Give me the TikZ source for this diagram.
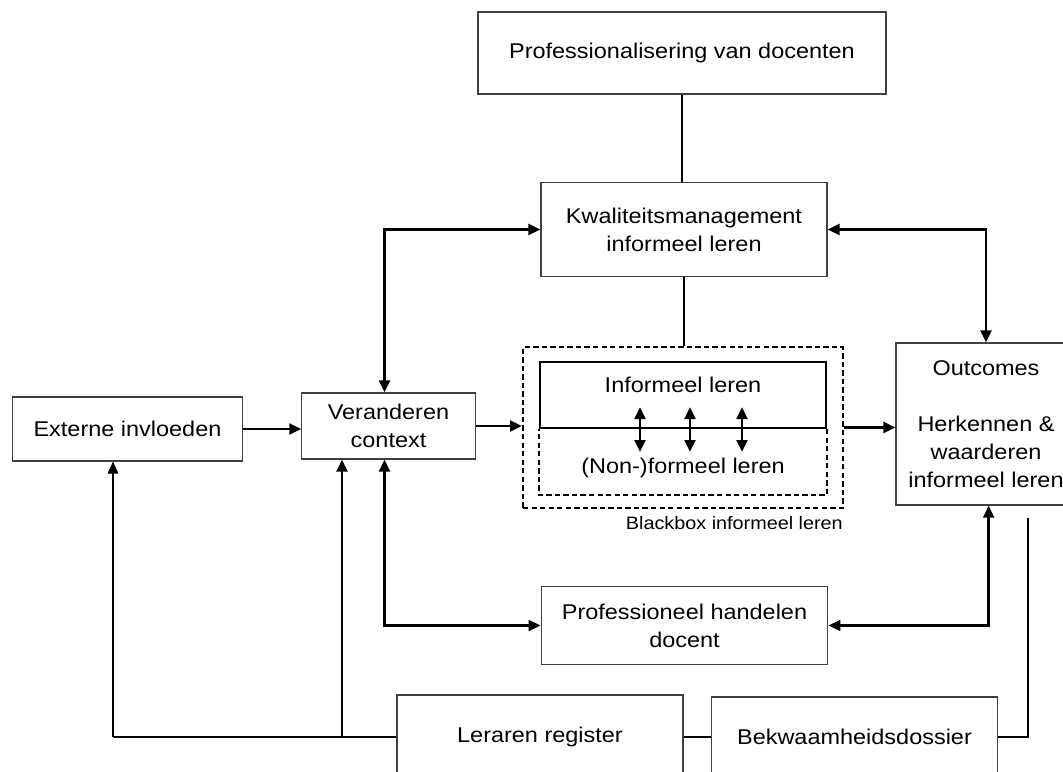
\documentclass[tikz,border=0pt]{standalone}
\usepackage{fontspec}
\setmainfont{Liberation Sans}[FakeStretch=1.1]
\usetikzlibrary{arrows.meta,calc,positioning}

\begin{document}
\begin{tikzpicture}[x=0.75pt,y=-0.75pt,inner sep=0.4mm,
  >={Triangle[length=9pt,width=8pt]},
  blok/.style={draw=black!75,line width=0.8pt,fill=white,align=center,
    font=\fontsize{16}{21}\selectfont},
  lijn/.style={draw=black,line width=0.8pt},
  pijl/.style={draw=black,line width=2.1pt},
  streep/.style={draw=black,line width=1.5pt,dash pattern=on 4pt off 2.4pt}]
\useasboundingbox (0,0) rectangle (1063,771);
\clip (0,0) rectangle (1063,771);

\node [blok,minimum width=306pt,minimum height=61.5pt] (prof) at (682,53) {Professionalisering van docenten};
\node [blok,minimum width=214.5pt,minimum height=71pt] (kwal) at (684,229.5) {Kwaliteitsmanagement\\informeel leren};
\node [blok,minimum width=173pt,minimum height=48pt] (ext) at (127.5,429) {Externe invloeden};
\node [blok,minimum width=130pt,minimum height=49.5pt] (ver) at (388.5,426) {Veranderen\\context};
\node [blok,minimum width=135pt,minimum height=121.5pt] (out) at (986,424) {Outcomes\\[21pt]Herkennen \&\\waarderen\\informeel leren};
\node [blok,minimum width=215pt,minimum height=58pt] (hand) at (684.5,625.5) {Professioneel handelen\\docent};
\node [blok,minimum width=214.5pt,minimum height=63pt] (ler) at (540,737) {Leraren register};
\node [blok,minimum width=215pt,minimum height=60pt] (bek) at (854.5,737) {Bekwaamheidsdossier};

% blackbox met informeel en (non-)formeel leren
\node [streep,minimum width=240pt,minimum height=120.5pt] (bb) at (683,427.5) {};
\node [minimum width=214.5pt,minimum height=49.5pt,draw=black,line width=1.5pt] (inf) at (683,395) {};
\draw [streep] (inf.south east) -- ++(0,66) -| (inf.south west);
\node [font=\fontsize{16}{21}\selectfont] (inftxt) at (683,385) {Informeel leren};
\node [font=\fontsize{16}{21}\selectfont] (nontxt) at (683,468) {(Non-)formeel leren};
\node [font=\fontsize{13.5}{16}\selectfont,anchor=north east,inner sep=0pt] (bblab) at (843,516) {Blackbox informeel leren};
\foreach \x in {640,690,742}
  \draw [pijl,<->] (\x,407) -- (\x,452);

\coordinate (c1) at (113,737);
\coordinate (c2) at (342,737);
\coordinate (c3) at (1028,518);

\draw [lijn] (prof.south) -- (prof.south |- kwal.north);
\draw [lijn] (kwal.south) -- (kwal.south |- bb.north);
\draw [pijl,->] (ext.east) -- (ext.east -| ver.west);
\draw [pijl,->] (ver.east) -- (ver.east -| bb.west);
\draw [pijl,->] (bb.east) -- (bb.east -| out.west);
\draw [pijl,<->] ([xshift=-3]ver.north) |- (kwal.west);
\draw [pijl,<->] (kwal.east) -| (out.north);
\draw [pijl,<->] ([xshift=-3]ver.south) |- (hand.west);
\draw [pijl,<->] ([xshift=2]out.south) |- (hand.east);

\draw [lijn] (c1) -- (ler.west);
\draw [lijn,->] (c1) -- (c1 |- ext.south);
\draw [pijl,->] (c2) -- (c2 |- ver.south);
\draw [lijn] (ler.east) -- (bek.west);
\draw [lijn] (c3) |- (bek.east);
\end{tikzpicture}
\end{document}
